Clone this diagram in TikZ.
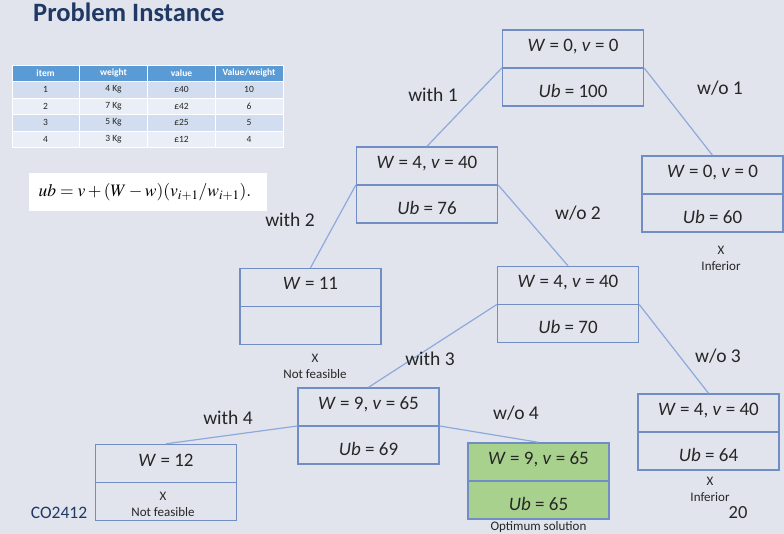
\documentclass[tikz,border=0pt]{standalone}
\usepackage{mathptmx}
\usepackage[no-math]{fontspec}
\setmainfont{Carlito}
\usetikzlibrary{positioning}

\definecolor{slidebg}{RGB}{225,228,236}
\definecolor{boxline}{RGB}{112,142,196}
\definecolor{edgeline}{RGB}{142,169,219}
\definecolor{optgreen}{RGB}{169,209,142}
\definecolor{titleblue}{RGB}{31,56,100}
\definecolor{headblue}{RGB}{91,155,213}
\definecolor{rowdark}{RGB}{210,222,239}
\definecolor{rowlight}{RGB}{234,239,247}

\tikzset{
  bbox/.style={draw=boxline, line width=1.4pt, minimum width=141pt, minimum height=76pt, inner sep=0pt},
  branch/.style={edgeline, line width=1.2pt},
  boxtext/.style={font=\fontsize{19}{22}\selectfont, text=black!85, text height=13pt, text depth=4pt, inner sep=0pt},
  lbl/.style={font=\fontsize{19.5}{22}\selectfont, text=black!85, inner sep=0pt},
  note/.style={font=\fontsize{13}{16}\selectfont, text=black!85, align=center, inner sep=0pt},
  tabtext/.style={font=\fontsize{9.5}{10}\selectfont, text=black!85, inner sep=0pt},
  tabhead/.style={font=\fontsize{9.5}{10}\selectfont\bfseries, text=white, inner sep=0pt},
}

% box with a line through the middle
\newcommand{\bbnode}[5][]{%
  \node[bbox,#1] (#2) at (#3) {};
  \draw[boxline, line width=1.4pt] (#2.west) -- (#2.east);
  \node[boxtext] (#2-top) at ([yshift=21pt]#2.center) {#4};
  \node[boxtext] (#2-bot) at ([yshift=-25pt]#2.center) {#5};
}

\begin{document}
\begin{tikzpicture}[x=1pt, y=-1pt]
\fill[slidebg] (0,0) rectangle (784,534);
\useasboundingbox (0,0) rectangle (784,534);

% title
\node[anchor=base west, inner sep=0pt, text=titleblue, font=\fontsize{26.5}{30}\selectfont\bfseries] (title) at (33,22) {Problem Instance};

% table
\foreach \ya/\yb/\fillc in {65/81.5/headblue, 81.5/98/rowdark, 98/114.5/rowlight, 114.5/131/rowdark, 131/147.5/rowlight}
  \foreach \xa/\xb in {12/79, 79/147, 147/215, 215/283}
    \filldraw[fill=\fillc, draw=white, line width=0.5pt] (\xa,\ya) rectangle (\xb,\yb);

\node[tabhead] (h1) at (45.5,73.2) {item};
\node[tabhead] (h2) at (113.5,73.2) {weight};
\node[tabhead] (h3) at (181.5,73.2) {value};
\node[tabhead] (h4) at (249,73.2) {Value/weight};
\foreach \y/\a/\b/\c/\d in {89.7/1/4 Kg/£40/10, 106.2/2/7 Kg/£42/6, 122.7/3/5 Kg/£25/5, 139.2/4/3 Kg/£12/4}
{
  \node[tabtext] (r\a-1) at (45.5,\y) {\a};
  \node[tabtext] (r\a-2) at (113.5,\y) {\b};
  \node[tabtext] (r\a-3) at (181.5,\y) {\c};
  \node[tabtext] (r\a-4) at (249,\y) {\d};
}

% formula
\node[fill=white, minimum width=238pt, minimum height=38pt, inner sep=0pt] (ubform) at (148,192) {};
\node[inner sep=0pt, font=\fontsize{17.5}{20}\selectfont] (ubtext) at (145,192) {$ub = v + (W - w)(v_{i+1}/w_{i+1}).$};

% boxes
\bbnode{root}{573,68}{\textit{W} = 0, \textit{v} = 0}{\textit{Ub} = 100}
\bbnode{with1}{427,185}{\textit{W} = 4, \textit{v} = 40}{\textit{Ub} = 76}
\bbnode{wo1}{712.5,194}{\textit{W} = 0, \textit{v} = 0}{\textit{Ub} = 60}
\bbnode{with2}{310.5,306.5}{\textit{W} = 11}{}
\bbnode{wo2}{568,304.5}{\textit{W} = 4, \textit{v} = 40}{\textit{Ub} = 70}
\bbnode{with3}{368.5,426}{\textit{W} = 9, \textit{v} = 65}{\textit{Ub} = 69}
\bbnode{wo3}{708.5,432}{\textit{W} = 4, \textit{v} = 40}{\textit{Ub} = 64}
\bbnode{with4}{166,482.5}{\textit{W} = 12}{}
\bbnode[fill=optgreen]{wo4}{538.5,481}{\textit{W} = 9, \textit{v} = 65}{\textit{Ub} = 65}

% branches
\draw[branch] (root.west) -- (with1.north);
\draw[branch] (root.east) -- (wo1.north);
\draw[branch] (with1.west) -- (with2.north);
\draw[branch] (with1.east) -- (wo2.north);
\draw[branch] (wo2.west) -- (with3.north);
\draw[branch] (wo2.east) -- (wo3.north);
\draw[branch] (with3.west) -- (with4.north);
\draw[branch] (with3.east) -- (wo4.north);

% branch labels
\node[lbl] (l-with1) at (433,95) {with 1};
\node[lbl] (l-wo1) at (720,88) {w/o 1};
\node[lbl] (l-with2) at (290,220) {with 2};
\node[lbl] (l-wo2) at (578,213) {w/o 2};
\node[lbl] (l-with3) at (430,359) {with 3};
\node[lbl] (l-wo3) at (718,356) {w/o 3};
\node[lbl] (l-with4) at (228,418) {with 4};
\node[lbl] (l-wo4) at (516,413) {w/o 4};

% notes
\node[note] (n-wo1) at (721,258) {X\\Inferior};
\node[note] (n-with2) at (315,366) {X\\Not feasible};
\node[note] (n-wo3) at (710,489) {X\\Inferior};
\node[note] (n-with4) at (163,504) {X\\Not feasible};
\node[note] (n-wo4) at (538.5,527) {Optimum solution};

% footer
\node[inner sep=0pt, text=titleblue, font=\fontsize{17.5}{20}\selectfont] (course) at (59,513) {CO2412};
\node[inner sep=0pt, text=black!85, font=\fontsize{18.5}{20}\selectfont] (page) at (738,513) {20};
\end{tikzpicture}
\end{document}
